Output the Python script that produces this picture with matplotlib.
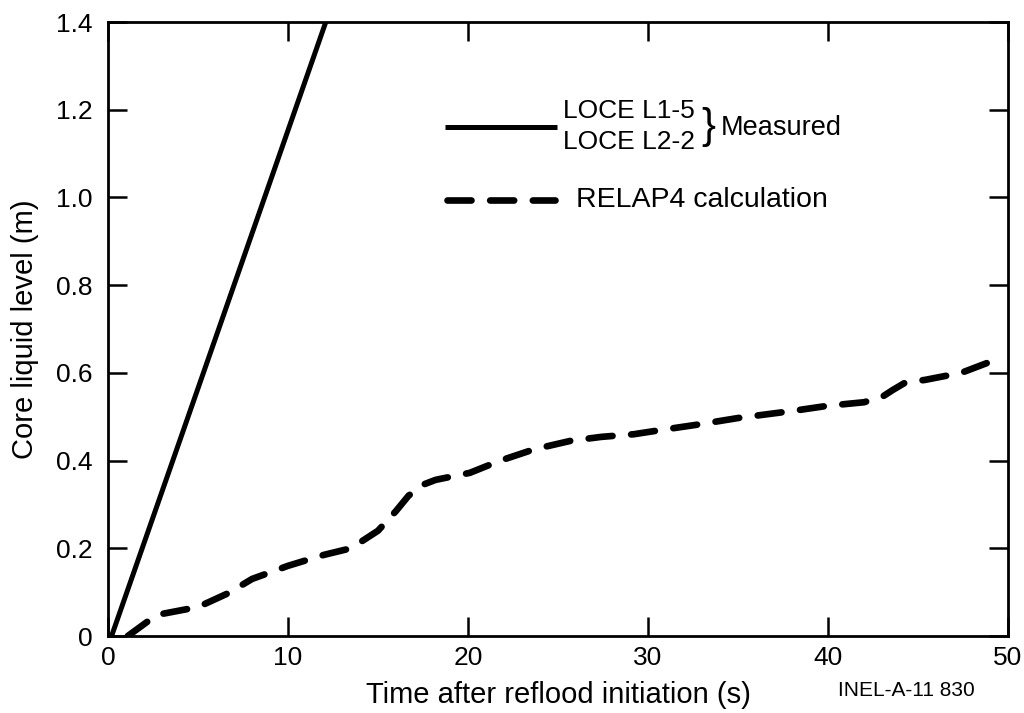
import matplotlib
matplotlib.use("Agg")
import matplotlib.pyplot as plt

plt.rcParams['font.family'] = ['Liberation Sans', 'DejaVu Sans']

# Measured (LOCE L1-5 / L2-2)
measured_t = [0.2, 12.1]
measured_level = [0.0, 1.4]

# RELAP4 calculation
relap_t = [1.1, 2.7, 5.0, 6.7, 8.0, 10.0, 12.0, 13.5, 15.0, 16.0, 16.7, 17.5, 18.2,
           20.1, 21.8, 23.7, 25.7, 27.4, 29.2, 31.1, 32.6, 35.0, 38.0, 40.0, 42.0,
           43.0, 43.6, 44.3, 45.4, 47.4, 49.0, 49.6]
relap_level = [0.0, 0.048, 0.066, 0.098, 0.13, 0.16, 0.185, 0.2, 0.24, 0.285, 0.32,
               0.345, 0.356, 0.372, 0.40, 0.426, 0.445, 0.454, 0.46, 0.472, 0.481,
               0.497, 0.513, 0.525, 0.533, 0.545, 0.561, 0.578, 0.584, 0.6, 0.625, 0.642]

x_ticks = [0, 10, 20, 30, 40, 50]
y_ticks = [0, 0.2, 0.4, 0.6, 0.8, 1.0, 1.2, 1.4]
y_tick_labels = ['0', '0.2', '0.4', '0.6', '0.8', '1.0', '1.2', '1.4']

fig = plt.figure(figsize=(10.24, 7.13), dpi=100)
ax = fig.add_axes([108/1024, 77/713, 900/1024, 614/713])

ax.plot(measured_t, measured_level, color='black', lw=3.6, solid_capstyle='butt')
ax.plot(relap_t, relap_level, color='black', lw=4.8, dash_capstyle='round',
        dashes=(3.6, 2.8))

ax.set_xlim(0, 50)
ax.set_ylim(0, 1.4)
ax.set_xticks(x_ticks)
ax.set_yticks(y_ticks)
ax.set_yticklabels(y_tick_labels)
ax.tick_params(direction='in', length=14, width=1.8, top=True, right=True,
               labelsize=19)
ax.tick_params(axis='y', pad=11)
ax.tick_params(axis='x', pad=7)
for s in ax.spines.values():
    s.set_linewidth(2.0)

ax.set_xlabel('Time after reflood initiation (s)', fontsize=21, labelpad=8)
ax.set_ylabel('Core liquid level (m)', fontsize=21, labelpad=12)

# Legend drawn manually
tr = ax.transAxes
def fx(px):
    return (px - 108) / 900
def fy(py):
    return (636 - py) / 614

ax.plot([fx(445), fx(557)], [fy(127), fy(127)], transform=tr, color='black', lw=3.6,
        solid_capstyle='butt', clip_on=False)
ax.text(fx(563), fy(111), 'LOCE L1-5', transform=tr, fontsize=19, va='center', ha='left')
ax.text(fx(563), fy(142), 'LOCE L2-2', transform=tr, fontsize=19, va='center', ha='left')
ax.text(fx(701), fy(127), '}', transform=tr, fontsize=30, va='center', ha='left',
        fontweight='light')
ax.text(fx(721), fy(128), 'Measured', transform=tr, fontsize=19.5, va='center', ha='left')

ax.plot([fx(447), fx(555)], [fy(200), fy(200)], transform=tr, color='black', lw=4.8,
        dash_capstyle='round', dashes=(3.6, 2.8), clip_on=False)
ax.text(fx(576), fy(200), 'RELAP4 calculation', transform=tr, fontsize=20.5,
        va='center', ha='left')

fig.text(838/1024, 1 - 691/713, 'INEL-A-11 830', fontsize=15, va='center', ha='left')

fig.savefig('out.png', dpi=100)
